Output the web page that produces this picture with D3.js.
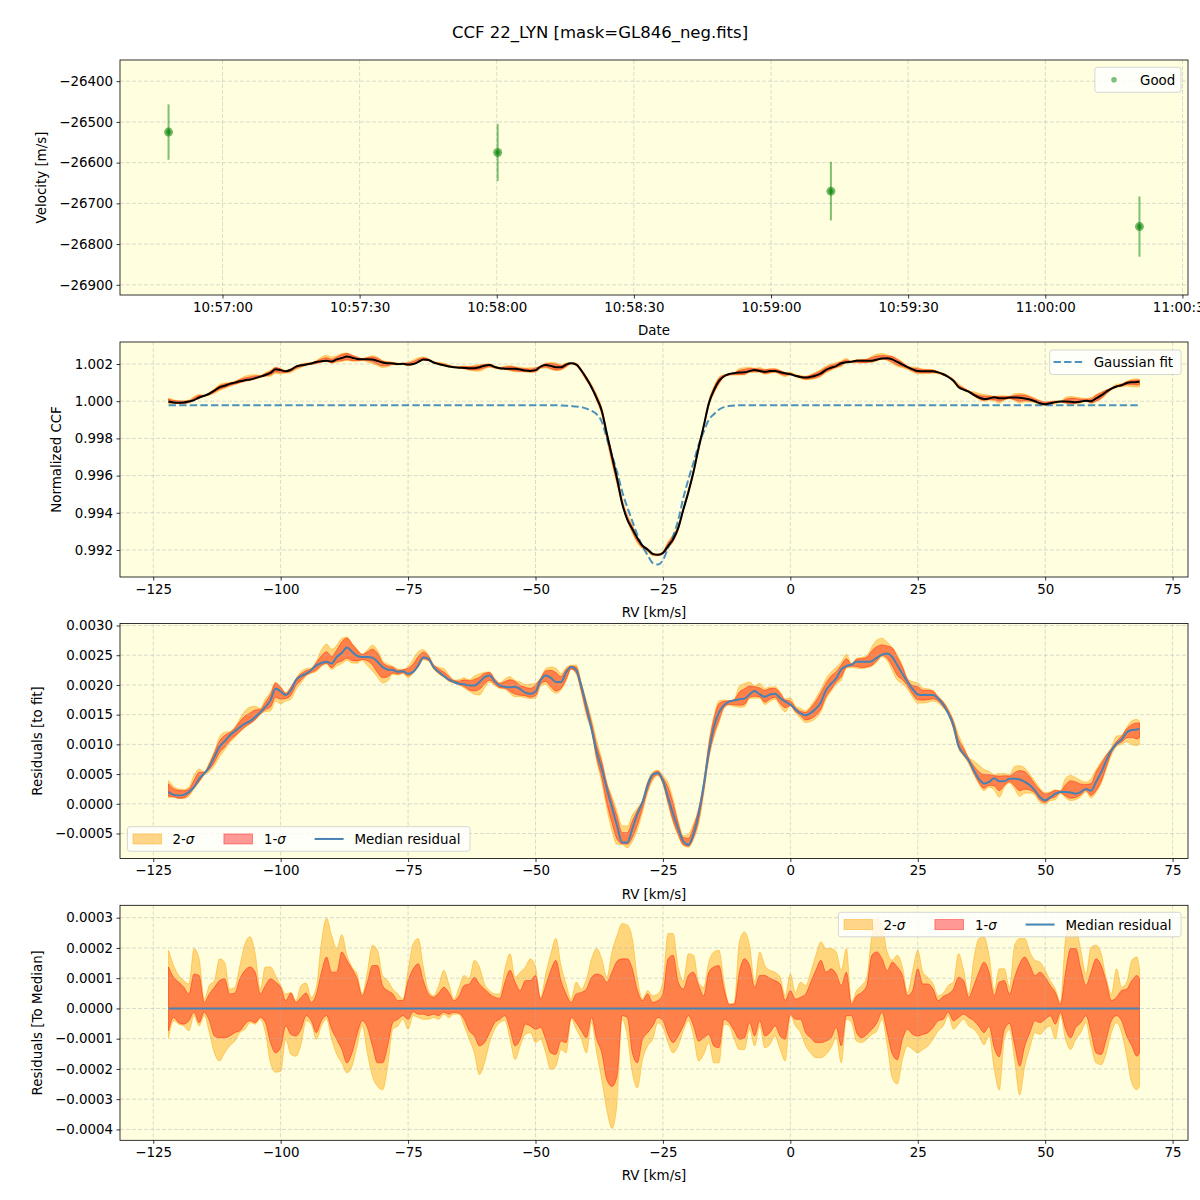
<!DOCTYPE html>
<html>
<head>
<meta charset="utf-8">
<script src="https://cdn.jsdelivr.net/npm/d3@7"></script>
<style>
  body { margin: 0; background: #fff; }
  svg { font-family: "DejaVu Sans", sans-serif; }
</style>
</head>
<body>
<svg id="chart" width="1200" height="1200"></svg>
<script>
// ---------- data ----------
const obsTimes = ["10:56:48.200", "10:58:00.200", "10:59:13.100", "11:00:20.600"];
const obsVel = [-26525, -26575, -26670, -26757];
const obsErr = [68, 70, 72, 74];

const velTicks = [-26900, -26800, -26700, -26600, -26500, -26400];
const rvTicks = [-125, -100, -75, -50, -25, 0, 25, 50, 75];
const ccfTicks = [0.992, 0.994, 0.996, 0.998, 1.000, 1.002];
const resFitTicks = [-0.0005, 0, 0.0005, 0.0010, 0.0015, 0.0020, 0.0025, 0.0030];
const resMedTicks = [-0.0004, -0.0003, -0.0002, -0.0001, 0, 0.0001, 0.0002, 0.0003];

// RV grid, km/s (1 km/s steps, last point 68.5)
const rv = d3.range(-122, 69).concat([68.5]);

// gaussian fit: flat continuum plus the dip between -46 and -10 km/s
const fitContinuum = 0.99978;
const fitDipRV = d3.range(-46, -9);
const fitDip = [
  0.99978, 0.99977, 0.99976, 0.99974, 0.99972, 0.99968, 0.99960, 0.99948, 0.99930, 0.99890,
  0.99800, 0.99710, 0.99620, 0.99515, 0.99430, 0.99355, 0.99280, 0.99220, 0.99172, 0.99130,
  0.99122, 0.99145, 0.99210, 0.99275, 0.99360, 0.99480, 0.99580, 0.99670, 0.99765, 0.99835,
  0.99900, 0.99930, 0.99955, 0.99968, 0.99974, 0.99977, 0.99978
];

// median residual to fit (x 1e-3)
const resMedian = [
  0.20, 0.15, 0.14, 0.15, 0.20, 0.28, 0.42, 0.51, 0.62, 0.79,
  0.96, 1.05, 1.15, 1.22, 1.29, 1.35, 1.39, 1.46, 1.54, 1.63,
  1.74, 1.94, 1.89, 1.83, 1.91, 2.08, 2.15, 2.19, 2.25, 2.33,
  2.37, 2.39, 2.36, 2.47, 2.54, 2.63, 2.56, 2.49, 2.47, 2.47,
  2.46, 2.39, 2.30, 2.26, 2.25, 2.22, 2.23, 2.19, 2.22, 2.33,
  2.46, 2.44, 2.30, 2.22, 2.15, 2.09, 2.05, 2.02, 2.01, 1.99,
  1.99, 2.05, 2.13, 2.16, 2.06, 1.99, 1.97, 1.96, 1.97, 1.93,
  1.87, 1.85, 1.89, 2.08, 2.16, 2.12, 2.05, 2.05, 2.21, 2.30,
  2.25, 1.97, 1.63, 1.26, 0.87, 0.59, 0.25, -0.06, -0.37, -0.65,
  -0.65, -0.42, -0.17, 0.03, 0.31, 0.49, 0.52, 0.39, 0.11, -0.17,
  -0.42, -0.63, -0.69, -0.51, -0.17, 0.31, 0.87, 1.29, 1.54, 1.66,
  1.72, 1.74, 1.76, 1.77, 1.84, 1.90, 1.84, 1.80, 1.84, 1.85,
  1.78, 1.72, 1.67, 1.59, 1.52, 1.49, 1.53, 1.60, 1.71, 1.91,
  2.02, 2.11, 2.26, 2.32, 2.34, 2.39, 2.39, 2.39, 2.40, 2.46,
  2.51, 2.53, 2.47, 2.33, 2.19, 2.05, 1.93, 1.84, 1.83, 1.83,
  1.83, 1.77, 1.67, 1.52, 1.32, 0.98, 0.84, 0.73, 0.56, 0.42,
  0.34, 0.37, 0.43, 0.38, 0.38, 0.42, 0.42, 0.41, 0.37, 0.31,
  0.22, 0.11, 0.06, 0.11, 0.17, 0.20, 0.20, 0.19, 0.17, 0.20,
  0.25, 0.22, 0.37, 0.53, 0.73, 0.90, 1.01, 1.08, 1.20, 1.24,
  1.25, 1.26
];

// percentile offsets from the median (x 1e-4)
const sig1Hi = [
  // -122 .. -75
  1.37, 1.03, 0.87, 0.70, 0.48, 1.14, 1.09, 0.20, 0.48, 0.70, 0.92, 0.98, 0.48, 0.51, 0.98, 1.26,
  1.37, 1.20, 0.48, 0.76, 0.98, 0.87, 0.70, 0.26, 0.51, 0.20, 0.37, 0.51, 0.20, 0.48, 1.20, 1.70,
  1.20, 1.20, 1.87, 1.59, 1.31, 0.98, 0.42, 0.87, 1.42, 1.42, 0.76, 0.59, 0.48, 0.26, 0.26, 0.92,
  // -74 .. -28
  1.31, 1.48, 0.92, 0.48, 0.37, 0.51, 0.70, 0.53, 0.26, 0.42, 0.76, 0.81, 1.03, 0.81, 0.64, 0.48,
  0.37, 0.33, 0.87, 1.26, 0.87, 0.59, 0.92, 0.92, 1.09, 0.31, 0.76, 1.26, 1.59, 0.92, 0.48, 0.20,
  0.48, 0.53, 0.64, 1.03, 1.14, 1.09, 0.87, 1.20, 1.56, 1.64, 1.64, 1.31, 0.59, 0.26, 0.48,
  // -27 .. 19
  0.20, 0.26, 0.48, 1.64, 1.76, 0.87, 0.64, 1.09, 1.20, 0.76, 0.42, 1.20, 1.37, 1.42, 0.64, 0.14,
  0.14, 1.20, 1.64, 1.42, 0.70, 1.09, 1.09, 1.00, 0.92, 0.81, 0.26, 0.59, 0.31, 0.37, 0.48, 0.87,
  1.26, 1.59, 1.20, 1.31, 1.14, 0.76, 1.20, 0.14, 0.42, 0.53, 0.76, 1.76, 1.87, 1.64, 1.25,
  // 20 .. 68.5
  1.53, 1.37, 1.09, 0.42, 0.59, 1.31, 0.81, 0.81, 0.64, 0.26, 0.40, 0.48, 0.64, 1.03, 0.92, 0.37,
  0.76, 1.20, 1.53, 1.20, 0.42, 0.87, 0.92, 0.48, 1.03, 1.48, 1.70, 1.42, 1.09, 1.20, 1.03, 0.76,
  0.53, 0.14, 1.20, 1.98, 1.98, 1.31, 0.76, 1.20, 1.64, 1.42, 0.87, 0.26, 0.37, 0.59, 0.64, 0.92,
  1.09, 0.98
];
const sig2Hi = [
  1.92, 1.42, 1.09, 0.92, 0.81, 1.98, 1.64, 0.31, 0.76, 0.92, 1.64, 1.53, 0.64, 0.70, 1.42, 2.14,
  2.37, 1.81, 0.64, 1.37, 1.37, 1.09, 0.76, 0.48, 0.53, 0.26, 0.76, 0.84, 0.37, 0.70, 2.20, 2.98,
  2.42, 1.98, 2.44, 1.76, 1.37, 1.14, 0.48, 1.20, 2.09, 1.92, 1.09, 0.92, 0.64, 0.48, 0.31, 1.26,
  2.14, 2.31, 1.37, 0.59, 0.42, 0.76, 1.26, 0.81, 0.31, 0.70, 1.09, 0.98, 1.59, 1.37, 0.81, 0.59,
  0.48, 0.48, 1.31, 1.81, 1.03, 1.20, 1.37, 1.64, 1.37, 0.37, 1.14, 1.81, 2.31, 1.42, 0.81, 0.31,
  0.87, 0.64, 0.98, 1.64, 1.98, 1.64, 1.03, 1.87, 2.42, 2.81, 2.76, 2.31, 0.98, 0.31, 0.59,
  0.42, 0.48, 0.87, 2.48, 2.48, 1.37, 0.92, 1.81, 1.76, 0.87, 0.70, 1.53, 1.87, 1.92, 0.87, 0.14,
  0.20, 2.20, 2.53, 2.09, 0.87, 1.87, 1.42, 1.26, 1.20, 1.03, 0.42, 1.14, 0.53, 0.87, 0.76, 1.20,
  1.76, 2.20, 1.98, 1.98, 1.87, 1.26, 1.98, 0.20, 0.59, 0.76, 1.03, 2.42, 2.98, 2.76, 1.87,
  1.60, 1.76, 1.37, 0.53, 1.26, 1.92, 1.20, 1.03, 0.81, 0.42, 0.51, 0.76, 0.87, 1.81, 1.26, 0.48,
  1.64, 2.31, 2.37, 1.76, 0.59, 1.31, 1.31, 0.70, 2.09, 2.31, 2.31, 1.87, 1.59, 1.53, 1.26, 0.92,
  0.64, 0.20, 2.31, 2.87, 2.70, 1.92, 1.14, 2.03, 2.09, 1.81, 0.98, 0.48, 1.31, 0.70, 0.87, 1.59,
  1.70, 1.31
];
const sig1Lo = [
  -0.74, -0.30, -0.47, -0.52, -0.41, -0.13, -0.47, -0.13, -0.41, -0.91, -0.97, -0.97, -0.91, -0.80, -0.74, -0.52,
  -0.41, -0.47, -0.30, -0.47, -1.13, -1.47, -1.30, -0.58, -0.86, -0.91, -0.69, -0.24, -0.41, -0.80, -0.41, -0.24,
  -0.69, -1.02, -1.36, -1.80, -1.47, -0.86, -0.41, -0.63, -1.24, -1.80, -1.80, -1.24, -0.47, -0.36, -0.24, -0.36,
  -0.11, -0.19, -0.19, -0.24, -0.19, -0.24, -0.13, -0.19, -0.13, -0.16, -0.36, -0.74, -0.91, -1.24, -1.13, -0.80,
  -0.47, -0.36, -0.24, -0.69, -1.24, -1.02, -0.52, -0.58, -0.69, -0.63, -1.02, -1.47, -1.52, -1.08, -1.13, -0.30,
  -0.47, -0.74, -0.97, -0.30, -1.02, -1.47, -2.36, -2.58, -2.24, -0.24, -0.30, -1.47, -1.80, -1.02, -0.80,
  -0.58, -0.30, -0.41, -0.86, -1.13, -0.91, -0.58, -0.24, -0.58, -1.08, -0.97, -0.86, -1.24, -1.30, -0.36, -0.47,
  -0.74, -1.02, -0.97, -0.47, -0.91, -0.41, -0.91, -0.80, -0.58, -0.91, -1.02, -0.19, -0.36, -0.36, -0.80, -0.97,
  -1.13, -1.13, -1.08, -0.97, -0.63, -1.24, -0.24, -0.24, -0.80, -0.97, -0.86, -0.69, -0.47, -0.13, -0.80,
  -1.50, -1.70, -1.02, -0.69, -0.86, -0.91, -0.86, -0.80, -0.63, -0.41, -0.36, -0.13, -0.41, -0.30, -0.19, -0.30,
  -0.41, -0.60, -0.80, -0.60, -1.30, -1.60, -0.70, -0.50, -1.20, -1.91, -1.24, -0.80, -0.41, -0.47, -0.36, -0.24,
  -0.52, -0.13, -0.69, -0.97, -0.63, -0.47, -0.24, -0.80, -1.47, -1.52, -1.02, -0.41, -0.24, -0.41, -0.91, -1.24,
  -1.58, -1.47
];
const sig2Lo = [
  -0.97, -0.41, -0.52, -0.58, -0.74, -0.24, -0.58, -0.24, -0.80, -1.47, -1.74, -1.47, -1.24, -1.08, -0.80, -0.69,
  -0.47, -0.52, -0.36, -0.80, -1.80, -2.11, -2.08, -1.02, -1.52, -1.58, -1.19, -0.41, -0.52, -1.02, -0.58, -0.36,
  -1.02, -1.52, -1.80, -2.13, -1.91, -1.24, -0.58, -1.47, -2.24, -2.58, -2.69, -1.91, -0.69, -0.58, -0.36, -0.69,
  -0.24, -0.30, -0.36, -0.36, -0.30, -0.36, -0.19, -0.30, -0.19, -0.19, -0.58, -1.02, -1.47, -2.19, -1.80, -1.13,
  -0.69, -0.47, -0.41, -1.02, -1.69, -1.24, -0.86, -0.80, -1.13, -1.02, -1.47, -2.02, -1.91, -1.36, -1.47, -0.36,
  -0.69, -1.02, -1.47, -0.47, -1.47, -2.36, -3.36, -3.97, -3.13, -0.36, -0.91, -2.13, -2.63, -1.69, -1.24,
  -1.02, -0.47, -0.63, -1.13, -1.47, -1.24, -0.74, -0.41, -0.91, -1.74, -1.52, -1.13, -1.80, -1.80, -0.52, -0.58,
  -1.02, -1.36, -1.36, -0.69, -1.24, -0.58, -1.30, -1.19, -0.91, -1.36, -1.74, -0.24, -0.58, -0.80, -1.24, -1.47,
  -1.63, -1.63, -1.52, -1.30, -0.97, -1.80, -0.36, -0.47, -1.08, -1.13, -1.02, -0.86, -0.74, -0.36, -1.20,
  -2.30, -2.50, -1.69, -1.24, -1.36, -1.47, -1.36, -1.24, -1.02, -0.74, -0.58, -0.24, -0.69, -0.52, -0.36, -0.58,
  -0.69, -0.90, -1.20, -0.90, -2.00, -2.70, -1.00, -0.70, -1.70, -2.86, -1.91, -1.30, -0.80, -0.86, -0.69, -0.58,
  -1.02, -0.24, -1.02, -1.36, -1.02, -0.80, -0.47, -1.24, -1.80, -1.86, -1.47, -0.80, -0.47, -0.80, -1.58, -2.47,
  -2.69, -2.58
];

// ---------- layout ----------
const svg = d3.select("#chart");
const left = 120, right = 1188, panelH = 235;
const tops = [60, 342, 623.5, 905.3];
const tickFont = 13.4;
const bg = "#ffffe0";

const fitAt = r => {
  const k = fitDipRV.indexOf(r);
  return k >= 0 ? fitDip[k] : fitContinuum;
};

const rows = rv.map((r, i) => {
  const fit = fitAt(r);
  const med = resMedian[i] * 1e-3;
  return {
    rv: r, fit: fit, med: med,
    s1lo: sig1Lo[i] * 1e-4, s1hi: sig1Hi[i] * 1e-4,
    s2lo: sig2Lo[i] * 1e-4, s2hi: sig2Hi[i] * 1e-4
  };
});

const xRV = d3.scaleLinear().domain([-131.525, 78.025]).range([left, right]);

function frame(i, ys, xs, xTickVals, yTickVals, xFmt, yFmt) {
  const top = tops[i], bottom = top + panelH;
  const g = svg.append("g");
  g.append("rect").attr("x", left).attr("y", top)
    .attr("width", right - left).attr("height", panelH).attr("fill", bg);
  const layers = {
    fills: g.append("g"),
    grid: g.append("g"),
    lines: g.append("g"),
    axes: g.append("g")
  };
  layers.grid.selectAll("line.v").data(xTickVals).enter().append("line")
    .attr("x1", d => xs(d)).attr("x2", d => xs(d)).attr("y1", top).attr("y2", bottom);
  layers.grid.selectAll("line.h").data(yTickVals).enter().append("line")
    .attr("x1", left).attr("x2", right).attr("y1", d => ys(d)).attr("y2", d => ys(d));
  layers.grid.selectAll("line")
    .attr("stroke", "#b0b0b0").attr("stroke-opacity", 0.6)
    .attr("stroke-width", 0.8).attr("stroke-dasharray", "4,2");

  const ax = layers.axes.append("g").attr("transform", `translate(0,${bottom})`)
    .call(d3.axisBottom(xs).tickValues(xTickVals).tickFormat(xFmt)
      .tickSize(3.5).tickPadding(3.5).tickSizeOuter(0));
  const ay = layers.axes.append("g").attr("transform", `translate(${left},0)`)
    .call(d3.axisLeft(ys).tickValues(yTickVals).tickFormat(yFmt)
      .tickSize(3.5).tickPadding(3.5).tickSizeOuter(0));
  [ax, ay].forEach(a => {
    a.attr("font-family", "DejaVu Sans").attr("font-size", tickFont);
    a.select(".domain").remove();
    a.selectAll(".tick line").attr("stroke-width", 0.8);
    a.selectAll(".tick text").attr("fill", "#000");
  });
  layers.axes.append("rect").attr("x", left).attr("y", top)
    .attr("width", right - left).attr("height", panelH)
    .attr("fill", "none").attr("stroke", "#000").attr("stroke-width", 0.8);
  return layers;
}

function axisLabels(i, xText, yText, yx) {
  const top = tops[i], bottom = top + panelH;
  svg.append("text").attr("x", (left + right) / 2).attr("y", bottom + 40)
    .attr("text-anchor", "middle").attr("font-size", tickFont).text(xText);
  svg.append("text")
    .attr("transform", `translate(${yx},${top + panelH / 2}) rotate(-90)`)
    .attr("text-anchor", "middle").attr("dominant-baseline", "central")
    .attr("font-size", tickFont).text(yText);
}

function legendBox(x0, y0, w, h) {
  svg.append("rect").attr("x", x0).attr("y", y0).attr("width", w).attr("height", h)
    .attr("rx", 2.5).attr("fill", "#fff").attr("fill-opacity", 0.8)
    .attr("stroke", "#cccccc").attr("stroke-width", 0.8);
}

function sigmaText(x0, y0, n) {
  const t = svg.append("text").attr("x", x0).attr("y", y0).attr("font-size", tickFont);
  t.append("tspan").text(n + "-");
  t.append("tspan").attr("font-style", "italic").text("σ");
}

// band legend used by panels 3 and 4
function bandLegend(x0, y0) {
  const w = 342.6, h = 24.5, cy = y0 + h / 2;
  legendBox(x0, y0, w, h);
  svg.append("rect").attr("x", x0 + 5.6).attr("y", cy - 5).attr("width", 28.6).attr("height", 10)
    .attr("fill", "orange").attr("fill-opacity", 0.45)
    .attr("stroke", "orange").attr("stroke-opacity", 0.45);
  sigmaText(x0 + 45, cy + 5, 2);
  svg.append("rect").attr("x", x0 + 96.5).attr("y", cy - 5).attr("width", 28.6).attr("height", 10)
    .attr("fill", "red").attr("fill-opacity", 0.4)
    .attr("stroke", "red").attr("stroke-opacity", 0.4);
  sigmaText(x0 + 136.6, cy + 5, 1);
  svg.append("line").attr("x1", x0 + 187.2).attr("x2", x0 + 216.2).attr("y1", cy).attr("y2", cy)
    .attr("stroke", "steelblue").attr("stroke-width", 2);
  svg.append("text").attr("x", x0 + 227).attr("y", cy + 5).attr("font-size", tickFont)
    .text("Median residual");
}

function drawBands(layer, xs, ys, base) {
  const area2 = d3.area().curve(d3.curveMonotoneX)
    .x(d => xs(d.rv)).y0(d => ys(base(d) + d.s2lo)).y1(d => ys(base(d) + d.s2hi));
  const area1 = d3.area().curve(d3.curveMonotoneX)
    .x(d => xs(d.rv)).y0(d => ys(base(d) + d.s1lo)).y1(d => ys(base(d) + d.s1hi));
  layer.append("path").datum(rows).attr("d", area2)
    .attr("fill", "orange").attr("fill-opacity", 0.45)
    .attr("stroke", "orange").attr("stroke-opacity", 0.45).attr("stroke-width", 1);
  layer.append("path").datum(rows).attr("d", area1)
    .attr("fill", "red").attr("fill-opacity", 0.4)
    .attr("stroke", "red").attr("stroke-opacity", 0.4).attr("stroke-width", 1);
}

// ---------- title ----------
svg.append("text").attr("x", 600).attr("y", 38).attr("text-anchor", "middle")
  .attr("font-size", 16.5).text("CCF 22_LYN [mask=GL846_neg.fits]");

// ---------- panel 1: velocities ----------
const parseTime = d3.utcParse("%H:%M:%S.%L");
const obs = obsTimes.map((t, i) => ({ t: parseTime(t), v: obsVel[i], e: obsErr[i] }));
const tExt = d3.extent(obs, d => +d.t);
const tPad = (tExt[1] - tExt[0]) * 0.05;
const xT = d3.scaleUtc().domain([new Date(tExt[0] - tPad), new Date(tExt[1] + tPad)]).range([left, right]);
const yV = d3.scaleLinear().domain([-26925, -26348]).range([tops[0] + panelH, tops[0]]);
const timeTicks = xT.ticks(d3.utcSecond.every(30));
const p1 = frame(0, yV, xT, timeTicks, velTicks, d3.utcFormat("%H:%M:%S"), d3.format("d"));

p1.lines.selectAll("line.err").data(obs).enter().append("line")
  .attr("x1", d => xT(d.t)).attr("x2", d => xT(d.t))
  .attr("y1", d => yV(d.v - d.e)).attr("y2", d => yV(d.v + d.e))
  .attr("stroke", "green").attr("stroke-opacity", 0.5).attr("stroke-width", 2);
p1.lines.selectAll("circle.outer").data(obs).enter().append("circle")
  .attr("cx", d => xT(d.t)).attr("cy", d => yV(d.v)).attr("r", 4.5)
  .attr("fill", "green").attr("fill-opacity", 0.55);
p1.lines.selectAll("circle.inner").data(obs).enter().append("circle")
  .attr("cx", d => xT(d.t)).attr("cy", d => yV(d.v)).attr("r", 2.5)
  .attr("fill", "green").attr("fill-opacity", 0.5);
axisLabels(0, "Date", "Velocity [m/s]", 41);

legendBox(1094.8, 67.3, 86.2, 25);
svg.append("circle").attr("cx", 1114).attr("cy", 79.8).attr("r", 2.8)
  .attr("fill", "green").attr("fill-opacity", 0.5);
svg.append("text").attr("x", 1140).attr("y", 84.5).attr("font-size", tickFont).text("Good");

// ---------- panel 2: CCF ----------
const yC = d3.scaleLinear().domain([0.990548, 1.003183]).range([tops[1] + panelH, tops[1]]);
const p2 = frame(1, yC, xRV, rvTicks, ccfTicks, d3.format("d"), d3.format(".3f"));
drawBands(p2.fills, xRV, yC, d => d.fit + d.med);
p2.lines.append("path").datum(rows)
  .attr("d", d3.line().curve(d3.curveMonotoneX).x(d => xRV(d.rv)).y(d => yC(d.fit)))
  .attr("fill", "none").attr("stroke", "#1f77b4").attr("stroke-opacity", 0.8)
  .attr("stroke-width", 2).attr("stroke-dasharray", "7.4,3.2");
p2.lines.append("path").datum(rows)
  .attr("d", d3.line().curve(d3.curveMonotoneX).x(d => xRV(d.rv)).y(d => yC(d.fit + d.med)))
  .attr("fill", "none").attr("stroke", "#000").attr("stroke-width", 2);
axisLabels(1, "RV [km/s]", "Normalized CCF", 56);

legendBox(1049.7, 350, 131.3, 24.5);
svg.append("line").attr("x1", 1053.5).attr("x2", 1083).attr("y1", 362).attr("y2", 362)
  .attr("stroke", "#1f77b4").attr("stroke-opacity", 0.8).attr("stroke-width", 2)
  .attr("stroke-dasharray", "7.4,3.2");
svg.append("text").attr("x", 1093.7).attr("y", 367).attr("font-size", tickFont).text("Gaussian fit");

// ---------- panel 3: residuals to fit ----------
const yR = d3.scaleLinear().domain([-0.000921, 0.003034]).range([tops[2] + panelH, tops[2]]);
const p3 = frame(2, yR, xRV, rvTicks, resFitTicks, d3.format("d"), d3.format(".4f"));
drawBands(p3.fills, xRV, yR, d => d.med);
p3.lines.append("path").datum(rows)
  .attr("d", d3.line().curve(d3.curveMonotoneX).x(d => xRV(d.rv)).y(d => yR(d.med)))
  .attr("fill", "none").attr("stroke", "steelblue").attr("stroke-width", 2);
axisLabels(2, "RV [km/s]", "Residuals [to fit]", 37);
bandLegend(127.4, 826.7);

// ---------- panel 4: residuals to median ----------
const yM = d3.scaleLinear().domain([-0.000436, 0.000341]).range([tops[3] + panelH, tops[3]]);
const p4 = frame(3, yM, xRV, rvTicks, resMedTicks, d3.format("d"), d3.format(".4f"));
drawBands(p4.fills, xRV, yM, d => 0);
p4.lines.append("line")
  .attr("x1", xRV(rv[0])).attr("x2", xRV(rv[rv.length - 1]))
  .attr("y1", yM(0)).attr("y2", yM(0))
  .attr("stroke", "steelblue").attr("stroke-width", 2);
axisLabels(3, "RV [km/s]", "Residuals [To Median]", 37);
bandLegend(838.4, 912.3);

console.log(rv.length, resMedian.length, sig1Hi.length, sig2Hi.length, sig1Lo.length, sig2Lo.length);
</script>
</body>
</html>
